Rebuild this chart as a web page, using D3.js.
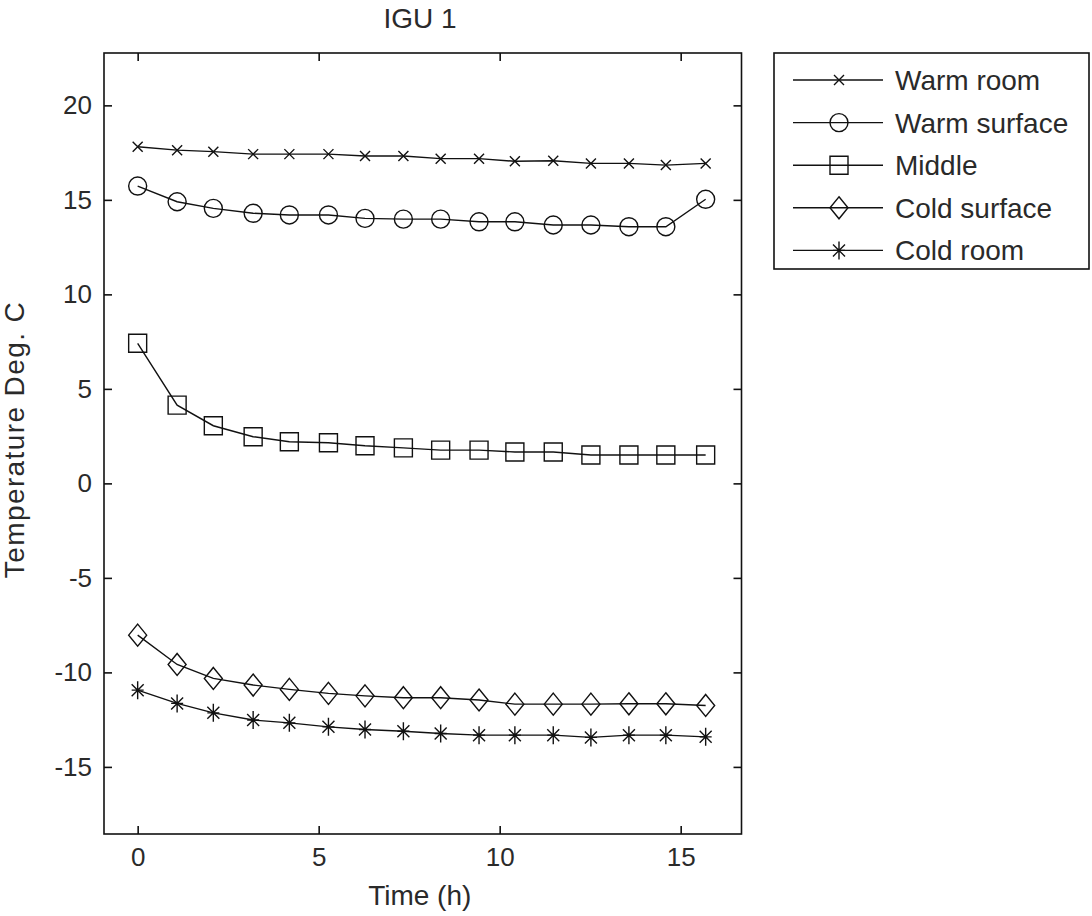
<!DOCTYPE html>
<html>
<head>
<meta charset="utf-8">
<script src="https://cdn.jsdelivr.net/npm/d3@7"></script>
<style>
  html, body { margin: 0; padding: 0; background: #fff; }
  svg { display: block; }
  text { font-family: "Liberation Sans", Arial, sans-serif; fill: #2a2a2a; }
</style>
</head>
<body>
<svg id="chart" width="1092" height="916"></svg>
<script>
// ---- data ----
const timeHours = [0, 1.09, 2.09, 3.19, 4.19, 5.27, 6.28, 7.34, 8.37, 9.43, 10.42, 11.48, 12.52, 13.57, 14.59, 15.69];
const warmRoom    = [17.81, 17.63, 17.55, 17.42, 17.42, 17.42, 17.32, 17.32, 17.18, 17.18, 17.04, 17.07, 16.93, 16.93, 16.84, 16.93];
const warmSurface = [15.73, 14.90, 14.55, 14.29, 14.20, 14.20, 14.02, 13.98, 13.98, 13.84, 13.84, 13.67, 13.67, 13.58, 13.58, 15.03];
const middle      = [7.41, 4.14, 3.05, 2.47, 2.20, 2.15, 1.99, 1.88, 1.76, 1.76, 1.66, 1.66, 1.50, 1.50, 1.50, 1.50];
const coldSurface = [-8.03, -9.58, -10.32, -10.67, -10.90, -11.11, -11.24, -11.34, -11.34, -11.46, -11.68, -11.68, -11.68, -11.66, -11.66, -11.75];
const coldRoom    = [-10.94, -11.64, -12.14, -12.52, -12.67, -12.88, -13.02, -13.11, -13.23, -13.32, -13.32, -13.32, -13.44, -13.32, -13.32, -13.41];
const seriesNames = ["Warm room", "Warm surface", "Middle", "Cold surface", "Cold room"];
const seriesMarkers = ["x", "circle", "square", "diamond", "asterisk"];
const xTicks = [0, 5, 10, 15];
const yTicks = [-15, -10, -5, 0, 5, 10, 15, 20];
const xDomain = [-0.93, 16.68];
const yDomain = [-18.55, 22.77];
const titleText = "IGU 1";
const xLabel = "Time (h)";
const yLabel = "Temperature Deg. C";

const seriesValues = [warmRoom, warmSurface, middle, coldSurface, coldRoom];
const series = seriesNames.map((name, i) => ({
  name, marker: seriesMarkers[i],
  points: timeHours.map((t, j) => ({x: t, y: seriesValues[i][j]}))
}));

// ---- layout ----
const svg = d3.select("#chart");
const plot = {left: 104, top: 53, right: 741.5, bottom: 834};
const x = d3.scaleLinear().domain(xDomain).range([plot.left, plot.right]);
const y = d3.scaleLinear().domain(yDomain).range([plot.bottom, plot.top]);
const ink = "#111";

function markerPath(type) {
  switch (type) {
    case "x": { const s = 5; return `M${-s},${-s}L${s},${s}M${-s},${s}L${s},${-s}`; }
    case "circle": { const r = 9; return `M${r},0A${r},${r} 0 1,1 ${-r},0A${r},${r} 0 1,1 ${r},0Z`; }
    case "square": { const s = 9; return `M${-s},${-s}H${s}V${s}H${-s}Z`; }
    case "diamond": { const w = 9, h = 11; return `M0,${-h}L${w},0L0,${h}L${-w},0Z`; }
    case "asterisk": { const v = 9, d = 6; return `M0,${-v}V${v}M${-d},0H${d}M${-d},${-d}L${d},${d}M${-d},${d}L${d},${-d}`; }
  }
}

// ---- axes box & ticks ----
const g = svg.append("g");
g.append("rect").attr("x", plot.left).attr("y", plot.top)
  .attr("width", plot.right - plot.left).attr("height", plot.bottom - plot.top)
  .attr("fill", "none").attr("stroke", ink).attr("stroke-width", 1.6);

const tickLen = 8;
const xAxisB = d3.axisBottom(x).tickValues(xTicks).tickSize(-tickLen).tickPadding(14).tickFormat(d3.format("d"));
const xAxisT = d3.axisTop(x).tickValues(xTicks).tickSize(-tickLen).tickFormat("");
const yAxisL = d3.axisLeft(y).tickValues(yTicks).tickSize(-tickLen).tickPadding(12).tickFormat(d => d < 0 ? "-" + Math.abs(d) : d);
const yAxisR = d3.axisRight(y).tickValues(yTicks).tickSize(-tickLen).tickFormat("");

function styleAxis(sel) {
  sel.select(".domain").remove();
  sel.selectAll(".tick line").attr("stroke", ink).attr("stroke-width", 1.6);
  sel.selectAll(".tick text").style("font-family", '"Liberation Sans", Arial, sans-serif')
    .style("font-size", "26px").attr("fill", "#2a2a2a");
}
g.append("g").attr("transform", `translate(0,${plot.bottom})`).call(xAxisB).call(styleAxis)
  .selectAll(".tick text").attr("dy", "0.71em");
g.append("g").attr("transform", `translate(0,${plot.top})`).call(xAxisT).call(styleAxis);
g.append("g").attr("transform", `translate(${plot.left},0)`).call(yAxisL).call(styleAxis);
g.append("g").attr("transform", `translate(${plot.right},0)`).call(yAxisR).call(styleAxis);

// ---- labels ----
svg.append("text").attr("x", 420).attr("y", 28).attr("text-anchor", "middle")
  .style("font-size", "28px").text(titleText);
svg.append("text").attr("x", (plot.left + plot.right) / 2 - 3).attr("y", 905).attr("text-anchor", "middle")
  .style("font-size", "28px").text(xLabel);
svg.append("text").attr("transform", `translate(24,${(plot.top + plot.bottom) / 2 - 4}) rotate(-90)`)
  .attr("text-anchor", "middle").style("font-size", "28px").style("letter-spacing", "1.4px").text(yLabel);

// ---- series ----
const line = d3.line().x(d => x(d.x)).y(d => y(d.y));
const sg = svg.append("g").selectAll("g").data(series).join("g");
sg.append("path").attr("d", d => line(d.points)).attr("fill", "none")
  .attr("stroke", ink).attr("stroke-width", 1.4);
sg.each(function(s) {
  d3.select(this).selectAll("path.m").data(s.points).join("path").attr("class", "m")
    .attr("transform", d => `translate(${x(d.x)},${y(d.y)})`)
    .attr("d", markerPath(s.marker)).attr("fill", "none")
    .attr("stroke", ink).attr("stroke-width", 1.4);
});

// ---- legend ----
const leg = svg.append("g");
leg.append("rect").attr("x", 774).attr("y", 53).attr("width", 1089 - 774).attr("height", 269 - 53)
  .attr("fill", "#fff").attr("stroke", ink).attr("stroke-width", 1.6);
const rowY = i => 80 + i * 42.6;
const li = leg.selectAll("g").data(series).join("g").attr("transform", (d, i) => `translate(0,${rowY(i)})`);
li.append("line").attr("x1", 793).attr("x2", 883).attr("y1", 0).attr("y2", 0)
  .attr("stroke", ink).attr("stroke-width", 1.4);
li.append("path").attr("transform", "translate(839,0)").attr("d", d => markerPath(d.marker))
  .attr("fill", "none").attr("stroke", ink).attr("stroke-width", 1.4);
li.append("text").attr("x", 895).attr("y", 10).style("font-size", "28px").text(d => d.name);
</script>
</body>
</html>
